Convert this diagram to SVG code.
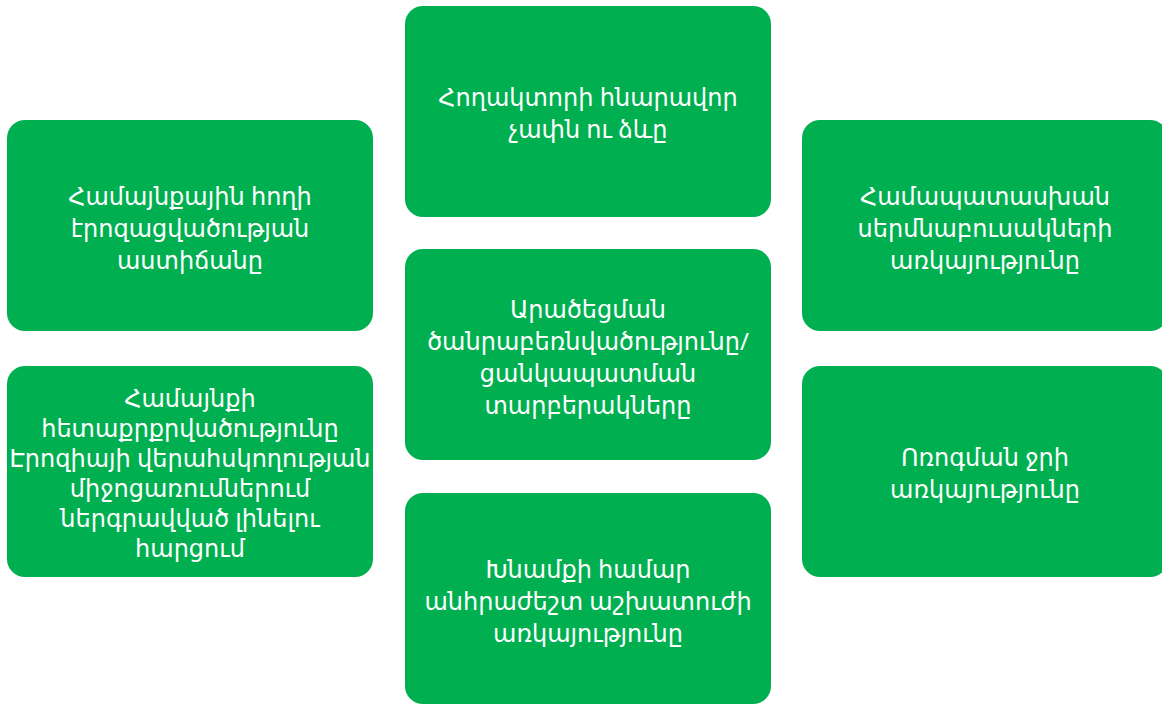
<svg xmlns="http://www.w3.org/2000/svg" width="1162" height="704" viewBox="0 0 1162 704">
<style>
.box{fill:#00B050;}
.t{fill:#ffffff;font-family:"Noto Sans","DejaVu Sans",sans-serif;font-size:24px;text-anchor:middle;}
</style>
<rect width="1162" height="704" fill="#ffffff"/>
<g id="connectors"></g>
<g id="n1">
<rect class="box" x="405" y="6" width="366" height="211" rx="18"/>
<text class="t"><tspan x="588" y="106">Հողակտորի հնարավոր</tspan><tspan x="588" y="138">չափն ու ձևը</tspan></text>
</g>
<g id="n2">
<rect class="box" x="7" y="120" width="366" height="211" rx="18"/>
<text class="t"><tspan x="190" y="205">Համայնքային հողի</tspan><tspan x="190" y="237">էրոզացվածության</tspan><tspan x="190" y="269">աստիճանը</tspan></text>
</g>
<g id="n3">
<rect class="box" x="802" y="120" width="366" height="211" rx="18"/>
<text class="t"><tspan x="985" y="205">Համապատասխան</tspan><tspan x="985" y="237">սերմնաբուսակների</tspan><tspan x="985" y="269">առկայությունը</tspan></text>
</g>
<g id="n4">
<rect class="box" x="405" y="249" width="366" height="211" rx="18"/>
<text class="t"><tspan x="588" y="318">Արածեցման</tspan><tspan x="588" y="350">ծանրաբեռնվածությունը/</tspan><tspan x="588" y="382">ցանկապատման</tspan><tspan x="588" y="414">տարբերակները</tspan></text>
</g>
<g id="n5">
<rect class="box" x="7" y="366" width="366" height="211" rx="18"/>
<text class="t"><tspan x="190" y="407">Համայնքի</tspan><tspan x="190" y="437">հետաքրքրվածությունը</tspan><tspan x="190" y="467">Էրոզիայի վերահսկողության</tspan><tspan x="190" y="497">միջոցառումներում</tspan><tspan x="190" y="527">ներգրավված լինելու</tspan><tspan x="190" y="557">հարցում</tspan></text>
</g>
<g id="n6">
<rect class="box" x="802" y="366" width="366" height="211" rx="18"/>
<text class="t"><tspan x="985" y="466">Ոռոգման ջրի</tspan><tspan x="985" y="498">առկայությունը</tspan></text>
</g>
<g id="n7">
<rect class="box" x="405" y="493" width="366" height="211" rx="18"/>
<text class="t"><tspan x="588" y="578">Խնամքի համար</tspan><tspan x="588" y="610">անհրաժեշտ աշխատուժի</tspan><tspan x="588" y="642">առկայությունը</tspan></text>
</g>
</svg>
